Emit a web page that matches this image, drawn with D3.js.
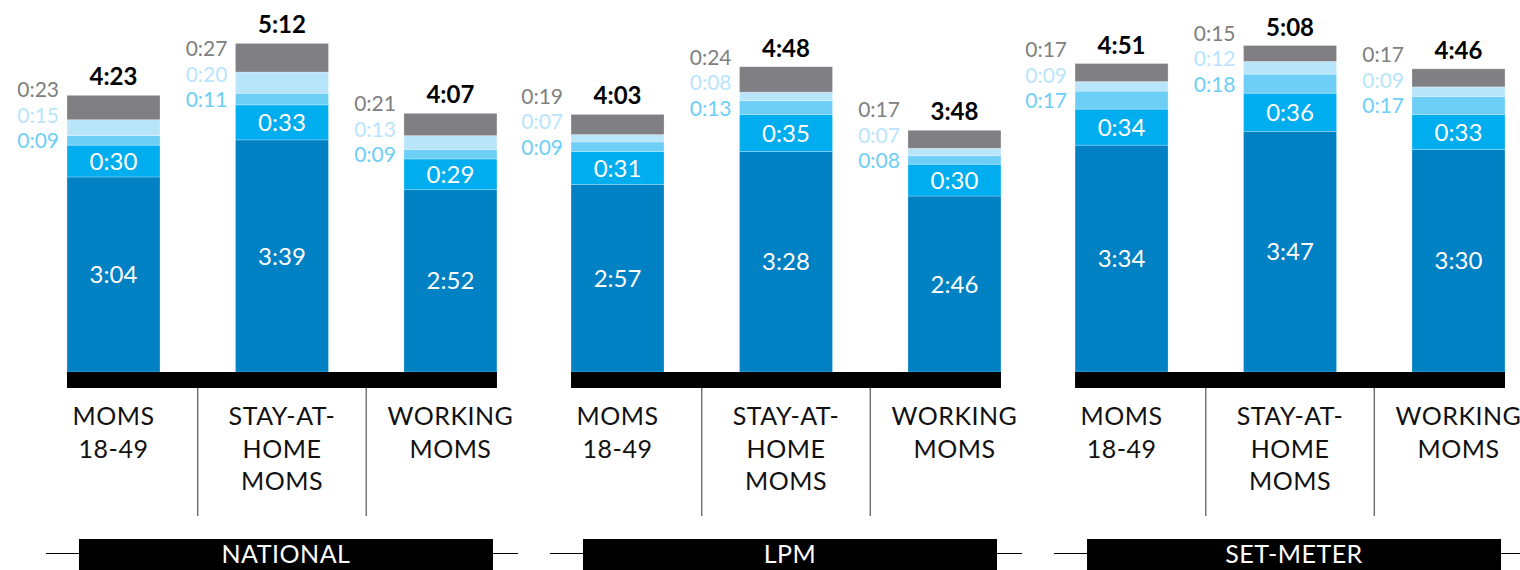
<!DOCTYPE html>
<html>
<head>
<meta charset="utf-8">
<script src="https://cdn.jsdelivr.net/npm/d3@7"></script>
<style>
  html, body { margin: 0; padding: 0; background: #fff; }
  svg { display: block; }
  text { font-family: Lato, "Noto Sans", sans-serif; }
</style>
</head>
<body>
<svg id="chart" width="1520" height="570"></svg>
<script>
// Daily viewing time (minutes), three measurement sources x three audiences.
const groups = ["NATIONAL", "LPM", "SET-METER"];
const categories = ["MOMS 18-49", "STAY-AT-HOME MOMS", "WORKING MOMS"];
const categoryLines = [["MOMS", "18-49"], ["STAY-AT-", "HOME", "MOMS"], ["WORKING", "MOMS"]];

// Stack tiers, bottom to top; each array runs NATIONAL, LPM, SET-METER x the three audiences.
const tier1 = [184, 219, 172, 177, 208, 166, 214, 227, 210];
const tier2 = [30, 33, 29, 31, 35, 30, 34, 36, 33];
const tier3 = [9, 11, 9, 9, 13, 8, 17, 18, 17];
const tier4 = [15, 20, 13, 7, 8, 7, 9, 12, 9];
const tier5 = [23, 27, 21, 19, 24, 17, 17, 15, 17];
const totals = ["4:23", "5:12", "4:07", "4:03", "4:48", "3:48", "4:51", "5:08", "4:46"];

const tierKeys = ["tier1", "tier2", "tier3", "tier4", "tier5"];
const tierFill = { tier1: "#0081c4", tier2: "#00aeef", tier3: "#6dcff6", tier4: "#b9e5fb", tier5: "#807f83" };
const sideLabelColor = { tier3: "#6dcff6", tier4: "#b9e5fb", tier5: "#808080" };

const rows = [];
groups.forEach((g, gi) => {
  categories.forEach((c, ci) => {
    const i = gi * categories.length + ci;
    rows.push({ group: g, category: c, ci, i,
      tier1: tier1[i], tier2: tier2[i], tier3: tier3[i], tier4: tier4[i], tier5: tier5[i],
      total: totals[i] });
  });
});

const fmt = m => `${Math.floor(m / 60)}:${String(m % 60).padStart(2, "0")}`;

const svg = d3.select("#chart");
const baseY = 372;

const x0 = d3.scaleBand().domain(groups).range([67, 1505]).paddingInner(0.147).paddingOuter(0);
const x1 = d3.scaleBand().domain(categories).range([0, x0.bandwidth()]).paddingInner(0.448).paddingOuter(0);
const y = d3.scaleLinear().domain([0, 300]).range([baseY, 54]);

const series = d3.stack().keys(tierKeys)(rows);
const barX = d => x0(d.data.group) + x1(d.data.category);

// stacked segments
svg.append("g").selectAll("g")
  .data(series).join("g")
  .attr("fill", s => tierFill[s.key])
  .selectAll("rect")
  .data(s => s).join("rect")
  .attr("x", barX)
  .attr("width", x1.bandwidth())
  .attr("y", d => y(d[1]))
  .attr("height", d => y(d[0]) - y(d[1]))
  .attr("stroke", "rgba(255,255,255,0.3)")
  .attr("stroke-width", 0.8);

const byKey = {};
series.forEach(s => { byKey[s.key] = s; });

// values printed inside the two lower tiers
["tier1", "tier2"].forEach(k => {
  svg.append("g").selectAll("text")
    .data(byKey[k]).join("text")
    .attr("x", d => barX(d) + x1.bandwidth() / 2)
    .attr("y", d => (y(d[0]) + y(d[1])) / 2)
    .attr("dy", "0.36em")
    .attr("text-anchor", "middle")
    .attr("fill", "#fff")
    .attr("font-size", 24)
    .text(d => fmt(d.data[k]));
});

// values for the thin upper tiers, stacked to the left of each bar
const sideGap = 25.5;
["tier3", "tier4", "tier5"].forEach((k, level) => {
  svg.append("g").selectAll("text")
    .data(byKey["tier3"]).join("text")
    .attr("x", d => barX(d) - 8)
    .attr("y", d => (y(d[0]) + y(d[1])) / 2 + 8 - level * sideGap)
    .attr("text-anchor", "end")
    .attr("fill", sideLabelColor[k])
    .attr("font-size", 21)
    .text(d => fmt(d.data[k]));
});

// totals above each bar
svg.append("g").selectAll("text")
  .data(byKey["tier5"]).join("text")
  .attr("x", d => barX(d) + x1.bandwidth() / 2)
  .attr("y", d => y(d[1]) - 10)
  .attr("text-anchor", "middle")
  .attr("fill", "#000")
  .attr("font-size", 24)
  .attr("font-weight", 700)
  .text(d => d.data.total);

// per-group baseline, dividers, audience labels and source banner
const gSel = svg.append("g").selectAll("g").data(groups).join("g")
  .attr("transform", g => `translate(${x0(g)},0)`);

gSel.append("rect")
  .attr("x", 0).attr("y", baseY)
  .attr("width", x0.bandwidth()).attr("height", 16)
  .attr("fill", "#000");

const gapW = x1.step() - x1.bandwidth();
gSel.selectAll("line.divider")
  .data(categories.slice(1)).join("line")
  .attr("class", "divider")
  .attr("x1", c => x1(c) - gapW / 2).attr("x2", c => x1(c) - gapW / 2)
  .attr("y1", baseY + 16).attr("y2", 516)
  .attr("stroke", "#555").attr("stroke-width", 1.2);

gSel.selectAll("text.cat")
  .data(categories).join("text")
  .attr("class", "cat")
  .attr("x", c => x1(c) + x1.bandwidth() / 2)
  .attr("text-anchor", "middle")
  .attr("fill", "#111")
  .attr("font-size", 25)
  .attr("letter-spacing", 0.5)
  .each(function (c, ci) {
    d3.select(this).selectAll("tspan")
      .data(categoryLines[ci]).join("tspan")
      .attr("x", x1(c) + x1.bandwidth() / 2)
      .attr("y", (t, li) => 425 + li * 32.5)
      .text(t => t);
  });

const bannerW = 414;
const bannerCx = x0.bandwidth() / 2 + 4;
gSel.append("line")
  .attr("x1", bannerCx - bannerW / 2 - 33).attr("x2", bannerCx + bannerW / 2 + 25)
  .attr("y1", 553.5).attr("y2", 553.5)
  .attr("stroke", "#000").attr("stroke-width", 1);
gSel.append("rect")
  .attr("x", bannerCx - bannerW / 2).attr("y", 539)
  .attr("width", bannerW).attr("height", 33)
  .attr("fill", "#000");
gSel.append("text")
  .attr("x", bannerCx).attr("y", 563)
  .attr("text-anchor", "middle")
  .attr("fill", "#fff")
  .attr("font-size", 25)
  .attr("letter-spacing", 0.5)
  .text(g => g);
</script>
</body>
</html>
